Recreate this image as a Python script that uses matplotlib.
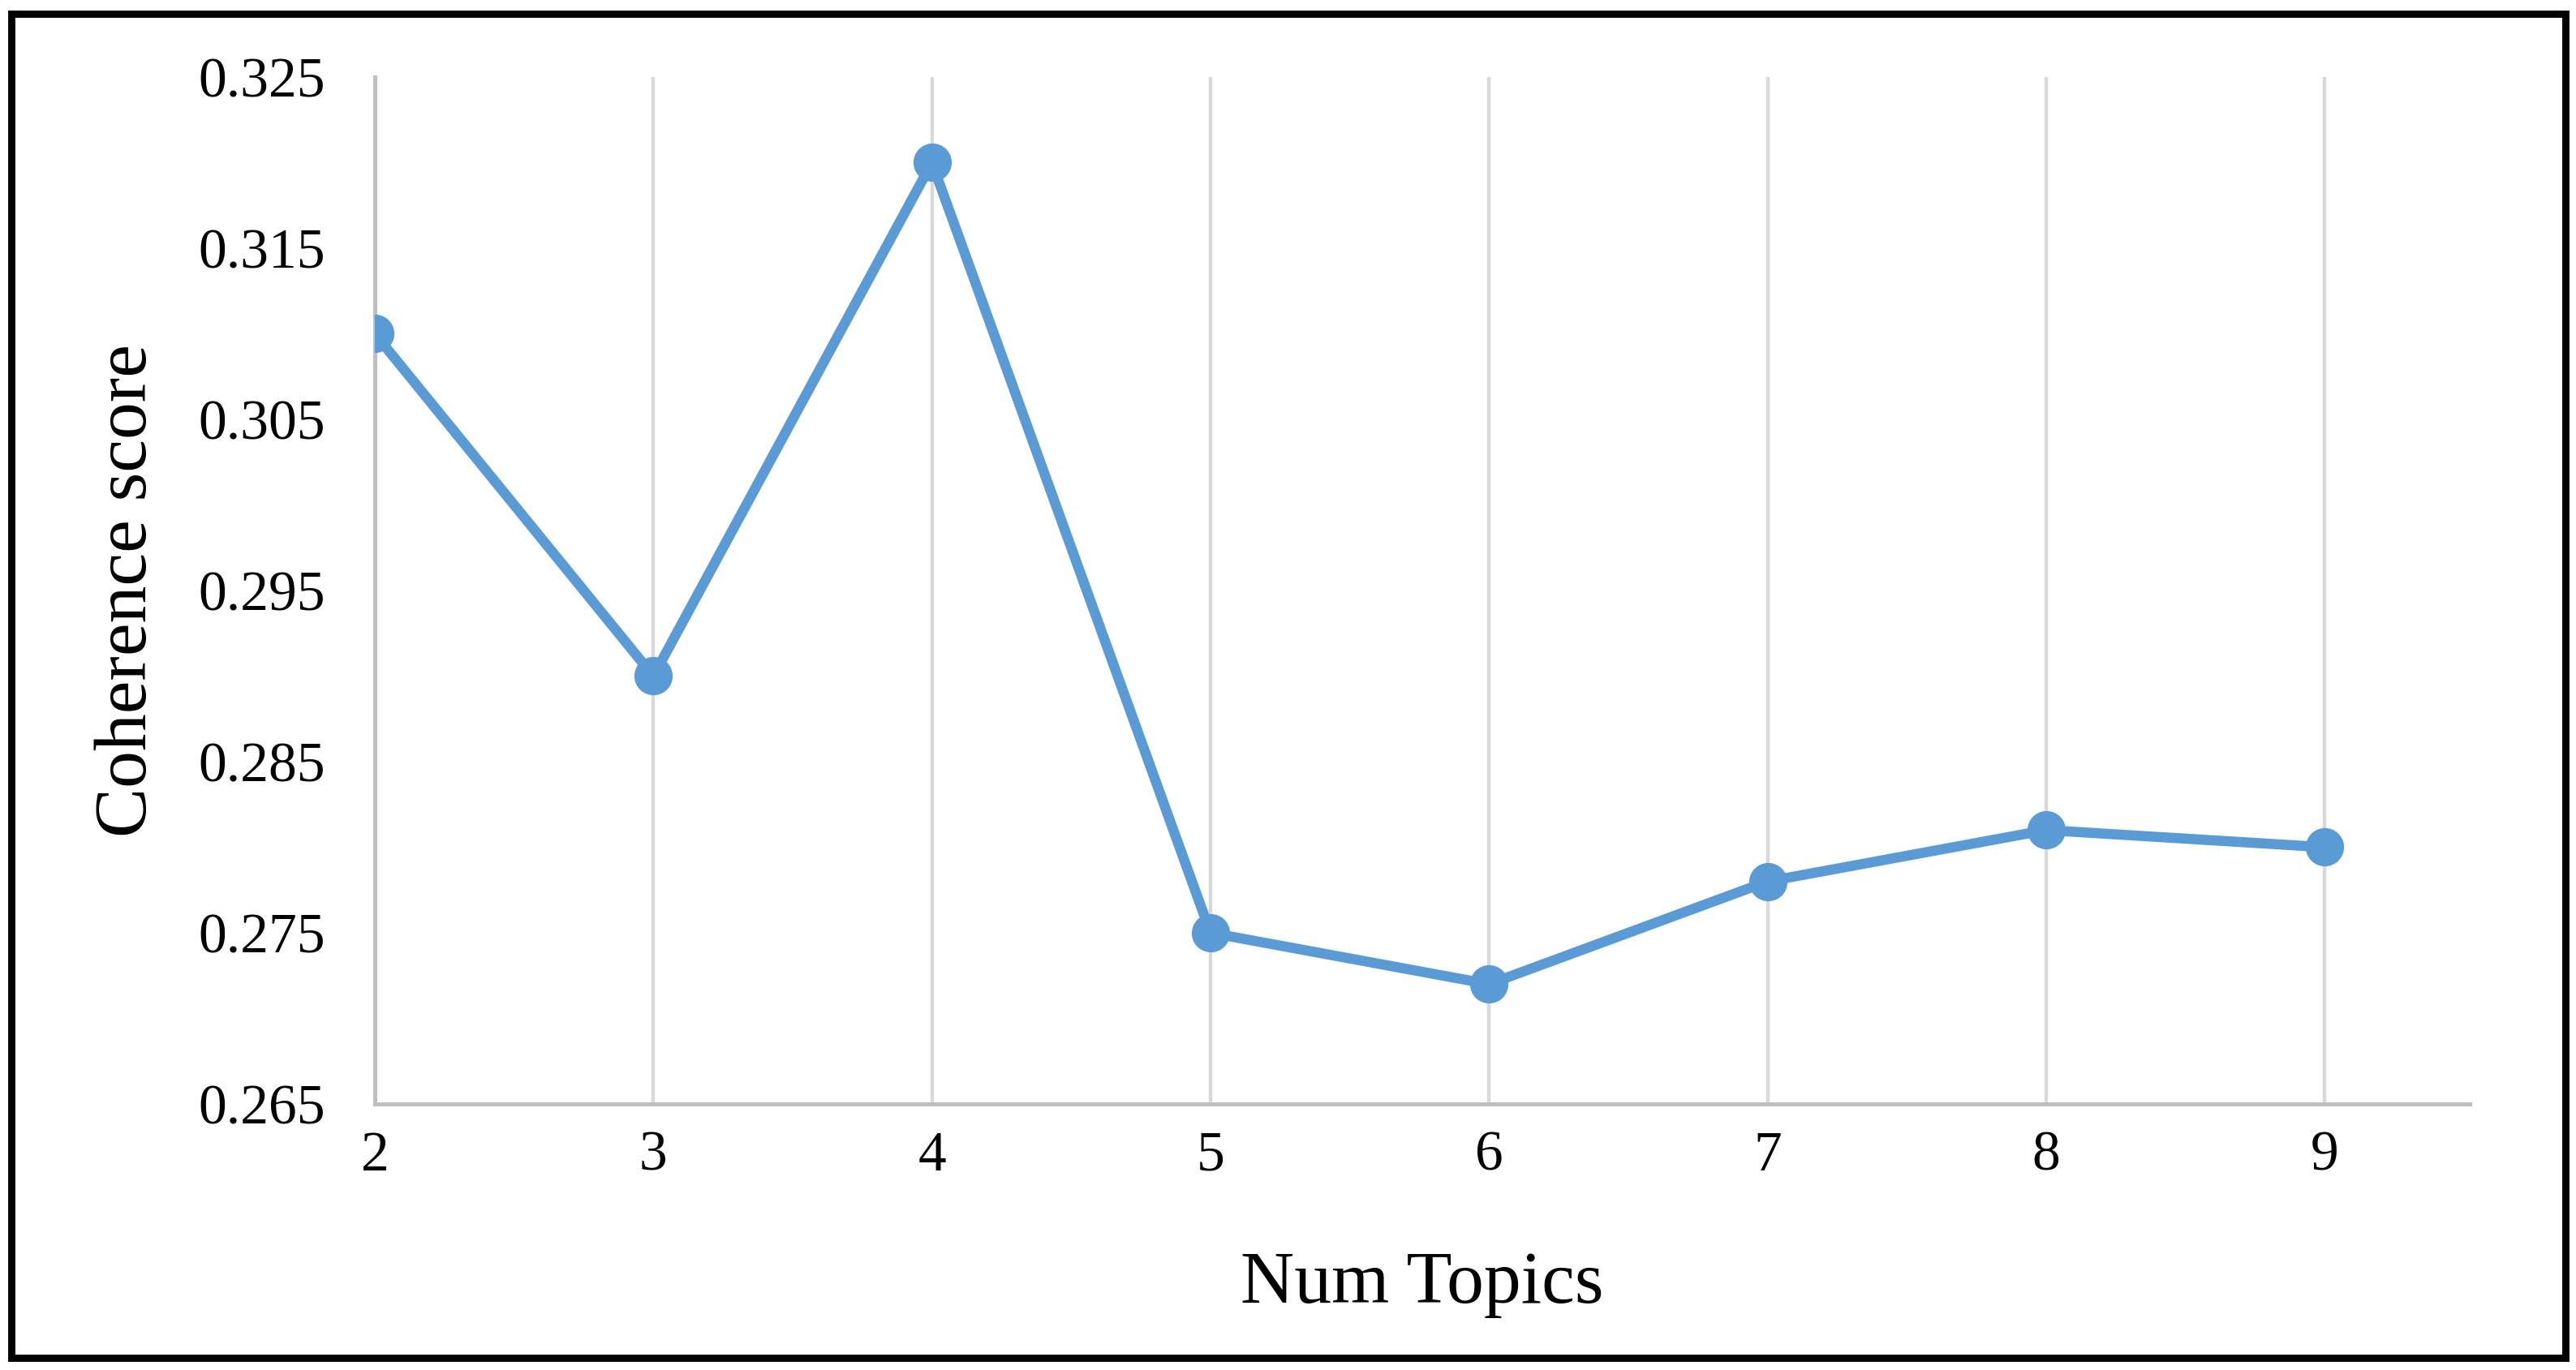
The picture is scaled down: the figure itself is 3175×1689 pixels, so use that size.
import matplotlib
matplotlib.use("Agg")
import matplotlib.pyplot as plt
from matplotlib.patches import Rectangle

# Coherence score per number of topics
num_topics = [2, 3, 4, 5, 6, 7, 8, 9]
coherence = [0.310, 0.290, 0.320, 0.275, 0.272, 0.278, 0.281, 0.280]
y_ticks = [0.265, 0.275, 0.285, 0.295, 0.305, 0.315, 0.325]

plt.rcParams["font.family"] = ["Liberation Serif", "DejaVu Serif"]

fig = plt.figure(figsize=(15.875, 8.445), dpi=200)
ax = fig.add_axes([0.1455, 0.1942, 0.9587 - 0.1455, 0.9438 - 0.1942])

line_color = "#5B9BD5"
ax.plot(num_topics, coherence, color=line_color, linewidth=4.5,
        marker="o", markersize=16, zorder=3, solid_capstyle="round",
        solid_joinstyle="round")

ax.set_xlim(2, 9.52)
ax.set_ylim(0.265, 0.325)
ax.set_xticks(num_topics)
ax.set_yticks(y_ticks)
ax.set_yticklabels([f"{v:.3f}" for v in y_ticks])

# Vertical gridlines only, like the Excel chart
ax.grid(axis="x", color="#d9d9d9", linewidth=1.6)
ax.set_axisbelow(True)
for side in ["top", "right"]:
    ax.spines[side].set_visible(False)
for side in ["left", "bottom"]:
    ax.spines[side].set_color("#bfbfbf")
    ax.spines[side].set_linewidth(1.8)

ax.tick_params(axis="both", length=0, labelsize=25)
ax.tick_params(axis="y", pad=22)
ax.tick_params(axis="x", pad=12)

ax.set_xlabel("Num Topics", fontsize=33)
ax.set_ylabel("Coherence score", fontsize=33)
ax.xaxis.set_label_coords(0.5, -0.143)
ax.yaxis.set_label_coords(-0.102, 0.5)

# Black frame round the whole figure
fig.patches.append(Rectangle((0.0045, 0.009), 0.9915, 0.981,
                             transform=fig.transFigure, fill=False,
                             edgecolor="black", linewidth=3.2))

fig.savefig("out.png", dpi=200, facecolor="white")
plt.close(fig)
